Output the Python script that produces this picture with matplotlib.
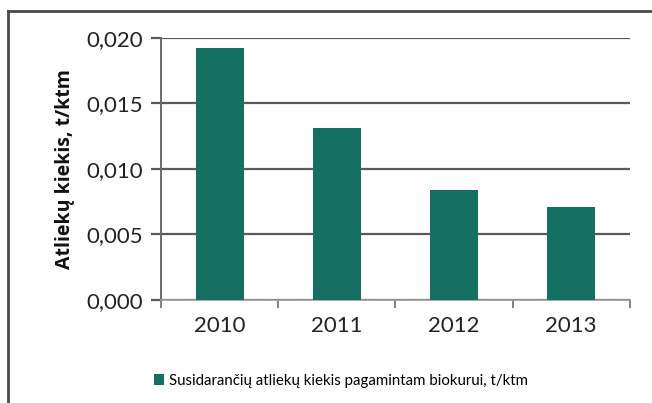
import matplotlib

matplotlib.use("Agg")

import matplotlib.pyplot as plt
from matplotlib.lines import Line2D
from matplotlib.patches import Patch
from matplotlib.ticker import FuncFormatter, MultipleLocator
import numpy as np

YEARS = ["2010", "2011", "2012", "2013"]
WASTE = [0.0192, 0.0131, 0.0084, 0.0071]
Y_LABEL = "Atliekų kiekis, t/ktm"
LEGEND_LABEL = "Susidarančių atliekų kiekis pagamintam biokurui, t/ktm"
BAR_COLOR = "#157062"
GRID_COLOR = "#5a5a5a"

plt.rcParams["font.family"] = ["Lato", "DejaVu Sans"]

fig = plt.figure(figsize=(6.52, 4.03), dpi=100)
ax = fig.add_axes([0.247, 0.256, 0.719, 0.650])

x = np.arange(len(YEARS))
ax.bar(x, WASTE, width=0.41, color=BAR_COLOR, zorder=3)

ax.set_xlim(-0.5, len(YEARS) - 0.5)
ax.set_ylim(0, 0.020)
ax.yaxis.set_major_locator(MultipleLocator(0.005))
ax.yaxis.set_major_formatter(FuncFormatter(lambda v, _: f"{v:.3f}".replace(".", ",")))
ax.grid(axis="y", color=GRID_COLOR, linewidth=1.6, zorder=0)
ax.set_axisbelow(True)

ax.set_xticks(x, YEARS)
ax.set_xticks(np.arange(-0.5, len(YEARS), 1.0), minor=True)
ax.tick_params(axis="x", which="major", length=0, pad=12, labelsize=16, colors="#222222")
ax.tick_params(axis="x", which="minor", length=6, width=1.2, color="#6b6b6b", direction="out")
ax.tick_params(axis="y", length=7, width=1.6, color=GRID_COLOR, labelsize=16, pad=6, labelcolor="#222222")

for side in ("top", "right"):
    ax.spines[side].set_visible(False)
ax.spines["left"].set_color("#6b6b6b")
ax.spines["left"].set_linewidth(1.4)
ax.spines["bottom"].set_color("#9a9a9a")
ax.spines["bottom"].set_linewidth(1.2)

ax.set_ylabel(Y_LABEL, fontsize=14, fontweight="bold", labelpad=8, color="#111111",
              family=["Open Sans", "DejaVu Sans"])

fig.legend(
    handles=[Patch(facecolor=BAR_COLOR, label=LEGEND_LABEL)],
    loc="center left",
    bbox_to_anchor=(0.215, 0.055),
    frameon=False,
    fontsize=10.8,
    handlelength=0.7,
    handleheight=0.7,
    handletextpad=0.3,
)

# outer frame (only top and left edges are visible in the original)
fig.add_artist(Line2D([0.0125, 1.0], [0.973, 0.973], color="#4a4a4a", linewidth=2, transform=fig.transFigure))
fig.add_artist(Line2D([0.0125, 0.0125], [0.0, 0.973], color="#4a4a4a", linewidth=2, transform=fig.transFigure))

fig.savefig("out.png", dpi=100, facecolor="white")
